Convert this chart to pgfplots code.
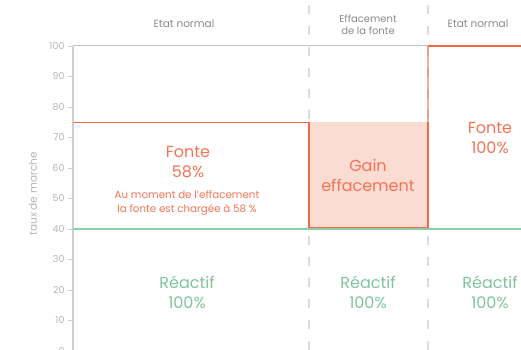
\documentclass[border=0pt]{standalone}
\usepackage{pgfplots}
\pgfplotsset{compat=1.18}
\usepackage{fontspec}
\setmainfont{Poppins}
\definecolor{orng}{HTML}{EF6A47}
\definecolor{orngtxt}{HTML}{F27456}
\definecolor{pinkfill}{HTML}{FBDCD3}
\definecolor{grn}{HTML}{8FCCA8}
\definecolor{grntxt}{HTML}{80C49E}
\definecolor{axgrey}{HTML}{CFCFCF}
\definecolor{txtgrey}{HTML}{8A8A8A}
\definecolor{tickgrey}{HTML}{B5B5B5}
\definecolor{dashgrey}{HTML}{DCDCDC}
\begin{document}
\begin{tikzpicture}[x=1pt,y=1pt]
\path[use as bounding box, clip] (0,0) rectangle (521,-350);
\begin{axis}[
  at={(73pt,-351pt)}, anchor=south west,
  width=448pt, height=305pt, scale only axis,
  xmin=73, xmax=521, ymin=0, ymax=100,
  clip=false,
  axis x line=none,
  axis y line=left,
  y axis line style={-, axgrey, line width=1.2pt},
  ytick={0,10,...,100},
  tick align=outside,
  major tick length=5pt,
  ytick style={axgrey, line width=0.8pt},
  yticklabel style={font=\fontsize{9.5}{10}\selectfont, text=tickgrey},
  /pgf/number format/assume math mode=true,
]
% dashed separators
\addplot[dashgrey, line width=1.8pt, dash pattern=on 9pt off 12pt] coordinates {(309,113.5) (309,0)};
\addplot[dashgrey, line width=1.8pt, dash pattern=on 9pt off 12pt] coordinates {(428,113.5) (428,0)};
% top grey border
\addplot[axgrey!85!gray, line width=1pt] coordinates {(73,100) (428,100)};
% pink effacement box
\addplot[fill=pinkfill, draw=none] coordinates {(309,40.3) (309,75) (428,75) (428,40.3)} -- cycle;
% fonte line section 1
\addplot[orng, line width=1.1pt] coordinates {(73,75) (309,75)};
% effacement box border
\addplot[orng, line width=1.3pt] coordinates {(309,75) (309,40.5) (428,40.5) (428,75)};
\addplot[orng, opacity=0.55, line width=1.6pt] coordinates {(428,75) (428,100)};
% fonte 100% top
\addplot[orng, line width=1.3pt] coordinates {(428,100) (521,100)};
% reactif line
\addplot[grn, line width=1.2pt] coordinates {(73,40) (521,40)};

% header texts
\node[text=txtgrey, font=\fontsize{10.5}{11}\selectfont] at (axis cs:184,107.2) {Etat normal};
\node[text=txtgrey, font=\fontsize{10}{12}\selectfont, align=center] at (axis cs:368,106.9) {Effacement\\de la fonte};
\node[text=txtgrey, font=\fontsize{10.5}{11}\selectfont] at (axis cs:478,107.2) {Etat normal};
% y label
\node[text=tickgrey, font=\fontsize{10.5}{11}\selectfont, rotate=90] at (axis cs:33,51.5) {taux de marche};
% fonte texts
\node[text=orngtxt, font=\fontsize{16}{20}\selectfont, align=center] at (axis cs:188,62) {Fonte\\58\%};
\node[text=orngtxt, font=\fontsize{10.3}{14}\selectfont, align=center] at (axis cs:187,48.5) {Au moment de l'effacement\\la fonte est chargée à 58 \%};
\node[text=orngtxt, font=\fontsize{16}{20}\selectfont, align=center] at (axis cs:368,57.7) {Gain\\effacement};
\node[text=orngtxt, font=\fontsize{16}{20}\selectfont, align=center] at (axis cs:490,69.7) {Fonte\\100\%};
% reactif texts
\node[text=grntxt, font=\fontsize{16}{20}\selectfont, align=center] at (axis cs:187,19.3) {Réactif\\100\%};
\node[text=grntxt, font=\fontsize{16}{20}\selectfont, align=center] at (axis cs:368,19.3) {Réactif\\100\%};
\node[text=grntxt, font=\fontsize{16}{20}\selectfont, align=center] at (axis cs:490,19.3) {Réactif\\100\%};
\end{axis}
\end{tikzpicture}
\end{document}
